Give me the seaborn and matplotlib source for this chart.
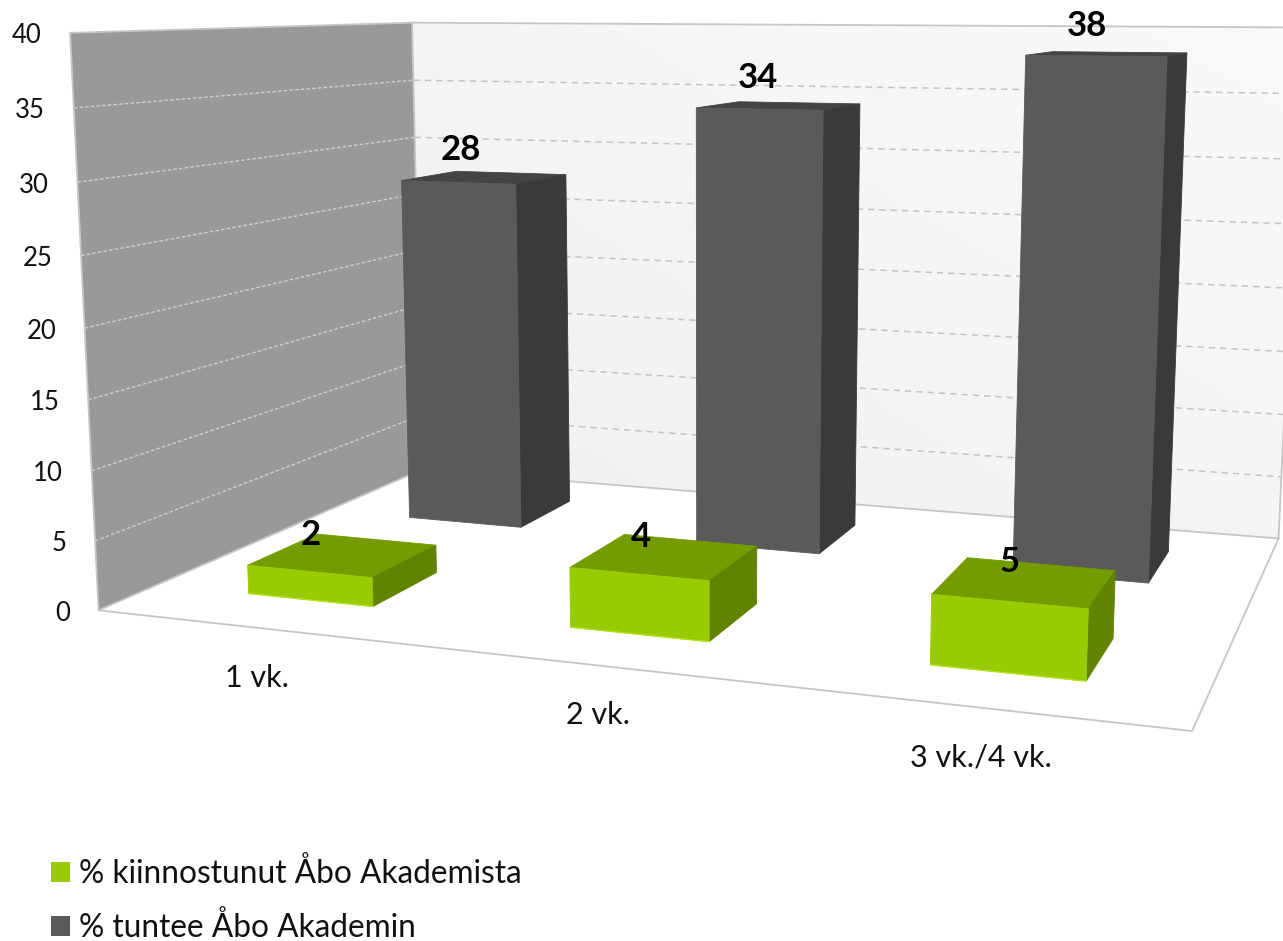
import numpy as np
import matplotlib
matplotlib.use("Agg")
import matplotlib.pyplot as plt
from matplotlib.patches import Polygon, Patch
import seaborn as sns

categories = ["1 vk.", "2 vk.", "3 vk./4 vk."]
series_names = ["% kiinnostunut Åbo Akademista", "% tuntee Åbo Akademin"]
kiinnostunut = [2.1, 4.2, 4.7]
tuntee = [27.75, 34, 38.2]
z_ticks = [0, 5, 10, 15, 20, 25, 30, 35, 40]

W, H = 1283, 941
ZMAX = 40

# ----- camera of the 3-D box: (across, depth, value) -> picture position
BX0, BW, BSTEP = 0.10, 0.133, 1 / 3
ROWS = [(0.15, 0.35), (0.655, 0.855)]
calib = [((0,0,0),(97,611)),((1,0,0),(1191,731)),((1,1,0),(1278,540)),((0,1,0),(424,469)),
         ((0,0,40),(71,34)),((0,1,40),(412,22)),((1,1,40),(1303,28)),((0,0,20),(84,328)),
         ((0,1,20),(418,251)),((1,1,20),(1290,287))] * 2
def bx(i, side):
    return BX0 + i * BSTEP + side * BW
seen = {
 (0,0):[(0,0,0,248,594),(1,0,0,373,607),(1,1,0,436,573),(0,0,1,248,564),(1,0,1,373,576),(1,1,1,436,544),(0,1,1,318,533)],
 (0,1):[(0,0,0,408,517),(1,0,0,519,527),(1,1,0,567,501),(0,0,1,401,181),(1,0,1,515,184),(1,1,1,565,175),(0,1,1,455,172)],
 (1,0):[(0,0,0,571,628),(1,0,0,710,641),(0,0,1,571,567),(1,0,1,710,580),(1,1,1,757,546),(0,1,1,628,534)],
 (1,1):[(0,0,0,696,544),(1,0,0,819,553),(1,1,0,858,525),(0,0,1,696,108),(1,0,1,823,110),(1,1,1,860,104)],
 (2,0):[(0,0,0,931,665),(1,0,0,1087,681),(1,1,0,1113,639),(0,0,1,932,595),(1,0,1,1089,609),(1,1,1,1115,571),(0,1,1,967,558)],
 (2,1):[(1,0,0,1148,583),(1,1,0,1167,552),(0,0,1,1026,55),(1,0,1,1167,56),(1,1,1,1186,52),(0,1,1,1052,51)],
}
values = [kiinnostunut, tuntee]
for (i, r), pts in seen.items():
    for sx, sy, sz, u, v in pts:
        calib.append(((bx(i, sx), ROWS[r][sy], sz * values[r][i]), (u, v)))
A = []
for (x, y, z), (u, v) in calib:
    z = z / ZMAX
    A.append([x, y, z, 1, 0, 0, 0, 0, -u * x, -u * y, -u * z, -u])
    A.append([0, 0, 0, 0, x, y, z, 1, -v * x, -v * y, -v * z, -v])
P = np.linalg.svd(np.array(A, float))[2][-1].reshape(3, 4)

def pr(x, y, z):
    h = P @ np.array([x, y, z / ZMAX, 1.0])
    return tuple(h[:2] / h[2])

sns.set_theme(style="white", rc={"font.family": "Lato"})
palette = sns.color_palette(["#99CC00", "#5A5A5A"])

def shade(c, f):
    return tuple(v * f for v in c)

fig = plt.figure(figsize=(W / 100, H / 100), dpi=100, facecolor="white")
ax = fig.add_axes([0, 0, 1, 1])
ax.set_xlim(0, W)
ax.set_ylim(H, 0)
ax.axis("off")

def face(pts, color, z=2, ec=None, lw=0.6):
    poly = Polygon([pr(*p) for p in pts], closed=True, facecolor=color,
                   edgecolor=ec if ec else color, linewidth=lw, zorder=z)
    ax.add_patch(poly)
    return poly

# walls
face([(0,0,0),(0,1,0),(0,1,ZMAX),(0,0,ZMAX)], "#999999", 1, lw=0)
back = face([(0,1,0),(1,1,0),(1,1,ZMAX),(0,1,ZMAX)], "none", 1, ec="none", lw=0)
grad = np.linspace(0, 1, 256)
gg = np.outer(1 - np.linspace(0, 1, 64), np.ones(256)) * 0.5 + np.outer(np.ones(64), grad) * 0.5
im = ax.imshow(gg, extent=(400, 1310, 560, 10),
               cmap=matplotlib.colors.LinearSegmentedColormap.from_list("w", ["#F0F0F0", "#FAFAFA"]),
               aspect="auto", zorder=1)
im.set_clip_path(back)
ax.set_xlim(0, W)
ax.set_ylim(H, 0)

# gridlines
for t in z_ticks[1:-1]:
    a, b, c = pr(0,0,t), pr(0,1,t), pr(1,1,t)
    ax.plot([a[0], b[0]], [a[1], b[1]], color="#CFCFCF", lw=1.0, ls=(0, (2.5, 1.6)), zorder=1.5)
    ax.plot([b[0], c[0]], [b[1], c[1]], color="#C4C4C4", lw=1.1, ls=(0, (4.2, 3.2)), zorder=1.5)
# frame
for path in [[(0,1,0),(0,0,0),(1,0,0),(1,1,0),(0,1,0)],
             [(0,0,0),(0,0,ZMAX),(0,1,ZMAX),(1,1,ZMAX),(1,1,0)],
             [(0,1,0),(0,1,ZMAX)]]:
    q = np.array([pr(*p) for p in path])
    ax.plot(q[:, 0], q[:, 1], color="#C6C6C6", lw=1.3, zorder=1.6, solid_capstyle="round")

# bars, back row first
dark_dx = [-24, -22, -21]
green_dx = [-33, -24, -16]
for r in [1, 0]:
    y0, y1 = ROWS[r]
    for i in range(len(categories)):
        v = values[r][i]
        x0, x1 = bx(i, 0), bx(i, 1)
        c = palette[r]
        zo = 3 + (1 - r) * 2
        face([(x0,y1,v),(x1,y1,v),(x1,y0,v),(x0,y0,v)], shade(c, 0.76), zo)
        face([(x1,y0,0),(x1,y1,0),(x1,y1,v),(x1,y0,v)], shade(c, 0.64), zo)
        face([(x0,y0,0),(x1,y0,0),(x1,y0,v),(x0,y0,v)], c, zo)
        if r == 0:
            e0, e1 = pr(x0, y0, 0), pr(x1, y0, 0)
            ax.plot([e0[0], e1[0]], [e0[1], e1[1]], color="#B4E31A", lw=0.9, zorder=zo + 0.5)
        q = pr((x0 + x1) / 2, (y0 + y1) / 2, v)
        dx, dy = (dark_dx[i], -28) if r == 1 else (green_dx[i], -20)
        ax.text(q[0] + dx, q[1] + dy, f"{v:.0f}", ha="center", va="center", fontsize=25,
                fontweight="bold", color="black", zorder=8)

# value axis labels
for t in z_ticks:
    q = pr(0, 0, t)
    ax.text(q[0] - 28.5, q[1] + 3, str(t), ha="right", va="center", fontsize=18.5, color="#111111")
# category labels
for i, name in enumerate(categories):
    q = pr((i + 0.5) / 3, 0, 0)
    ax.text(q[0] + 1.5 - (i == 2) * 2, q[1] + 50, name, ha="center", va="center", fontsize=22, color="#111111")

handles = [Patch(facecolor=palette[k], edgecolor="none", label=series_names[k]) for k in range(2)]
ax.legend(handles=handles, loc="lower left", bbox_to_anchor=(51, 943), bbox_transform=ax.transData,
          frameon=False, fontsize=22.8, handlelength=0.6, handleheight=0.6, handletextpad=0.28,
          labelspacing=0.72, borderpad=0, borderaxespad=0, labelcolor="#111111")

fig.savefig("out.png", dpi=100)
